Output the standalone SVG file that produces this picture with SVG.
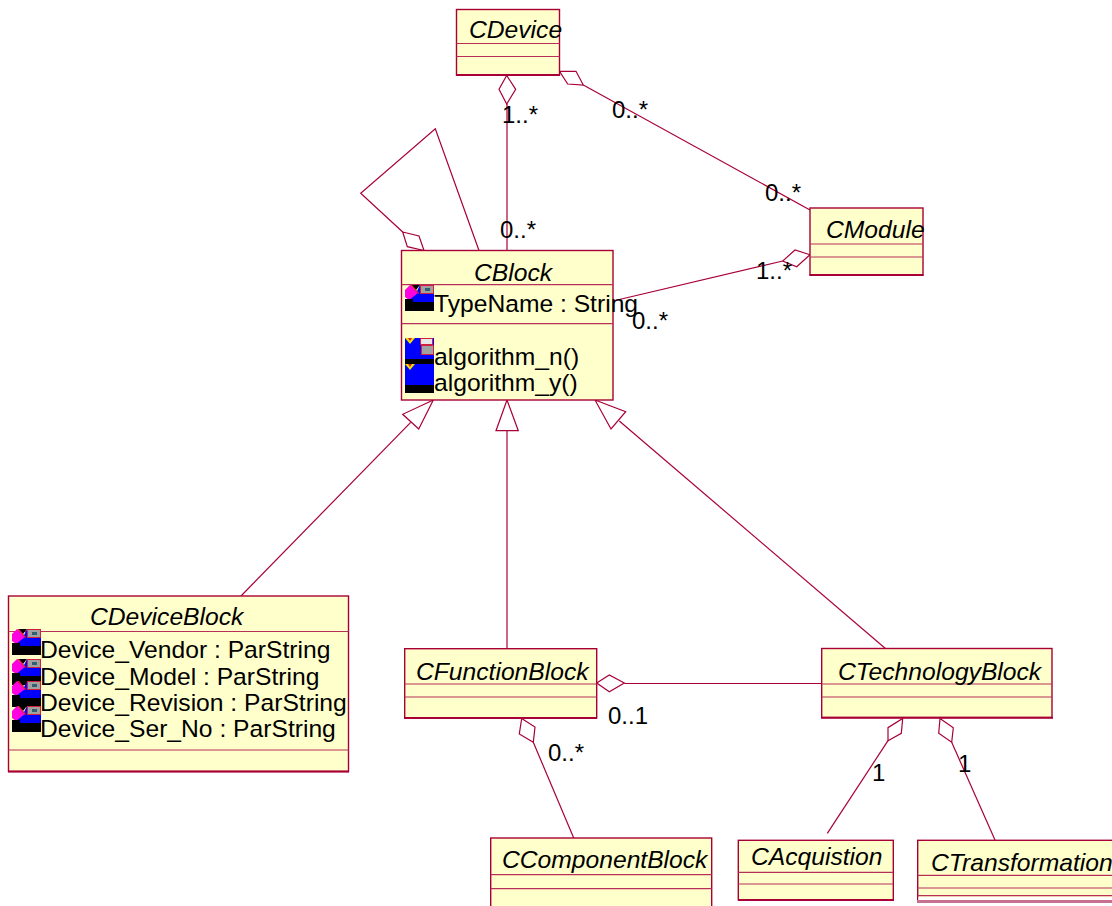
<svg xmlns="http://www.w3.org/2000/svg" xmlns:xlink="http://www.w3.org/1999/xlink" width="1112" height="906" viewBox="0 0 1112 906">
<style>
.box{fill:#ffffcb;stroke:#a80036;stroke-width:1.4}
.sep{fill:none;stroke:#b8305a;stroke-width:1.2}
.base{fill:none;stroke:#a80036;stroke-width:2}
.con{fill:none;stroke:#a80036;stroke-width:1.2}
.head{fill:#fff;stroke:#a80036;stroke-width:1.2}
text{font-family:"Liberation Sans",Arial,sans-serif;font-size:24.650px;fill:#000}
#multiplicities text{font-size:24px}
.cn{font-style:italic}
</style>
<defs>
<g id="attrIcon">
<polygon points="15,0 22,0 29,9 29,17 0,17 12,6" fill="#0000ff"/>
<polygon points="6,0 15,0 11,5" fill="#000"/>
<polygon points="0,5 5,0 13,8 4,15 0,12" fill="#ff00e0"/>
<polygon points="5,0 7,0 14,8 13,9" fill="#e02040"/>
<rect x="0" y="17" width="29" height="9" fill="#000"/>
<rect x="0" y="14" width="8" height="3" fill="#000"/>
<rect x="15.500" y="0.500" width="13" height="8" fill="#a0a0a0" stroke="#d02040"/>
<rect x="20" y="3" width="5" height="3" fill="#306070"/>
</g>
<g id="opIcon">
<rect x="0" y="0" width="29" height="29" fill="#0000ff"/>
<polygon points="0,0 10,0 5,6" fill="#f0e000"/>
<polygon points="3,0 7,0 5,3" fill="#e02020"/>
<rect x="0" y="21" width="29" height="8" fill="#000"/>
</g>
</defs>
<g id="connectors">
<polyline class="con" points="402.700,232 360.700,193.300 435.300,128.700 479,250.500"/>
<polygon class="head" points="424,250.500 419,236 402.700,232 407.300,246.700"/>
<line class="con" x1="507" y1="104" x2="507" y2="250"/>
<polygon class="head" points="506.700,75.500 515.700,89.300 506.700,104 499,89.300"/>
<line class="con" x1="583.300" y1="85" x2="810" y2="210"/>
<polygon class="head" points="559.500,71.300 576,71.300 583.300,85 567.700,84"/>
<line class="con" x1="782.700" y1="261" x2="613" y2="301"/>
<polygon class="head" points="810,254.700 795,250 782.700,261 796.700,266.700"/>
<line class="con" x1="410.700" y1="422.300" x2="241" y2="596"/>
<polygon class="head" points="433.300,400 402.700,414.300 418.700,429"/>
<line class="con" x1="507" y1="430.700" x2="507" y2="648"/>
<polygon class="head" points="507,400 496,430.700 518.300,430.700"/>
<line class="con" x1="619.300" y1="421" x2="886" y2="649"/>
<polygon class="head" points="595,400 625.700,411.700 611,429"/>
<line class="con" x1="624.300" y1="683.500" x2="822" y2="683.500"/>
<polygon class="head" points="596.700,683 609.300,675 624.300,683 609.300,691.700"/>
<line class="con" x1="533.300" y1="742.300" x2="575" y2="841"/>
<polygon class="head" points="521.700,718.500 535,727 533.300,742.300 519.300,734"/>
<line class="con" x1="888" y1="740.700" x2="827.300" y2="833.300"/>
<polygon class="head" points="902.700,718.500 901.300,733.300 888,740.700 888,727.700"/>
<line class="con" x1="951.700" y1="742.300" x2="995" y2="840"/>
<polygon class="head" points="940,718.500 953.300,727.700 951.700,742.300 938.700,733.300"/>
</g>
<g id="CDevice">
<rect class="box" x="456.500" y="9.500" width="103" height="65.500"/>
<line class="sep" x1="456.500" y1="43.500" x2="559.500" y2="43.500"/>
<line class="sep" x1="456.500" y1="56.500" x2="559.500" y2="56.500"/>
<line class="base" x1="456" y1="75" x2="560" y2="75"/>
<text class="cn" x="469" y="38">CDevice</text>
</g>
<g id="CModule">
<rect class="box" x="810" y="208" width="113" height="67"/>
<line class="sep" x1="810" y1="244" x2="923" y2="244"/>
<line class="sep" x1="810" y1="257" x2="923" y2="257"/>
<line class="base" x1="809.500" y1="275" x2="923.500" y2="275"/>
<text class="cn" x="826" y="238">CModule</text>
</g>
<g id="CBlock">
<rect class="box" x="401.500" y="250.500" width="211.500" height="149.500"/>
<line class="sep" x1="401.500" y1="284.700" x2="613" y2="284.700"/>
<line class="sep" x1="401.500" y1="323.700" x2="613" y2="323.700"/>
<use xlink:href="#attrIcon" href="#attrIcon" x="405" y="285"/>
<use xlink:href="#opIcon" href="#opIcon" x="405" y="338"/>
<rect x="421.500" y="345.500" width="12" height="9" fill="#a0a0a0" stroke="#d02040"/>
<rect x="420.500" y="338.500" width="12" height="6" fill="#e8e8e8" stroke="#d02040"/>
<use xlink:href="#opIcon" href="#opIcon" x="405" y="364"/>
<text x="434" y="312">TypeName : String</text>
<text x="434" y="365">algorithm_n()</text>
<text x="434" y="391">algorithm_y()</text>
<text class="cn" x="474" y="281">CBlock</text>
</g>
<g id="CDeviceBlock">
<rect class="box" x="8.500" y="596" width="340" height="175.500"/>
<line class="sep" x1="8.500" y1="631.500" x2="348.500" y2="631.500"/>
<line class="sep" x1="8.500" y1="750" x2="348.500" y2="750"/>
<line class="base" x1="8" y1="771.500" x2="349" y2="771.500"/>
<use xlink:href="#attrIcon" href="#attrIcon" x="12" y="629"/>
<use xlink:href="#attrIcon" href="#attrIcon" x="12" y="659"/>
<use xlink:href="#attrIcon" href="#attrIcon" x="12" y="681"/>
<use xlink:href="#attrIcon" href="#attrIcon" x="12" y="706"/>
<text x="40" y="658">Device_Vendor : ParString</text>
<text x="40" y="685">Device_Model : ParString</text>
<text x="40" y="711">Device_Revision : ParString</text>
<text x="40" y="737">Device_Ser_No : ParString</text>
<text class="cn" x="90" y="625">CDeviceBlock</text>
</g>
<g id="CFunctionBlock">
<rect class="box" x="404.700" y="648.700" width="192" height="69.300"/>
<line class="sep" x1="404.700" y1="684" x2="596.700" y2="684"/>
<line class="sep" x1="404.700" y1="697" x2="596.700" y2="697"/>
<line class="base" x1="404" y1="718" x2="597" y2="718"/>
<text class="cn" x="416" y="680">CFunctionBlock</text>
</g>
<g id="CTechnologyBlock">
<rect class="box" x="821.700" y="648.500" width="230.300" height="69"/>
<line class="sep" x1="821.700" y1="684" x2="1052" y2="684"/>
<line class="sep" x1="821.700" y1="697" x2="1052" y2="697"/>
<line class="base" x1="821" y1="717.700" x2="1053" y2="717.700"/>
<text class="cn" x="838" y="680">CTechnologyBlock</text>
</g>
<g id="CComponentBlock">
<rect class="box" x="490.700" y="838" width="221" height="80"/>
<line class="sep" x1="490.700" y1="874.700" x2="711.700" y2="874.700"/>
<line class="sep" x1="490.700" y1="888.700" x2="711.700" y2="888.700"/>
<text class="cn" x="502" y="868">CComponentBlock</text>
</g>
<g id="CAcquistion">
<rect class="box" x="738.300" y="840.300" width="155" height="59.700"/>
<line class="sep" x1="738.300" y1="872.300" x2="893.300" y2="872.300"/>
<line class="sep" x1="738.300" y1="884" x2="893.300" y2="884"/>
<line class="base" x1="738" y1="900" x2="894" y2="900"/>
<text class="cn" x="751" y="865">CAcquistion</text>
</g>
<g id="CTransformation">
<rect class="box" x="917.700" y="840.300" width="210" height="61"/>
<rect x="918.500" y="897" width="200" height="3" fill="#fff"/>
<line class="sep" x1="917.700" y1="875.300" x2="1112" y2="875.300"/>
<line class="sep" x1="917.700" y1="888" x2="1112" y2="888"/>
<line class="sep" x1="917.700" y1="895.700" x2="1112" y2="895.700"/>
<line x1="917" y1="901.500" x2="1112" y2="901.500" stroke="#c87090" stroke-width="3"/>
<text class="cn" x="931" y="871">CTransformation</text>
</g>
<g id="multiplicities">
<text x="502" y="123">1..*</text>
<text x="612" y="118">0..*</text>
<text x="500" y="238">0..*</text>
<text x="765" y="201">0..*</text>
<text x="756" y="279">1..*</text>
<text x="632" y="329">0..*</text>
<text x="608" y="724">0..1</text>
<text x="548" y="761">0..*</text>
<text x="872" y="781">1</text>
<text x="958" y="772">1</text>
</g>
</svg>
